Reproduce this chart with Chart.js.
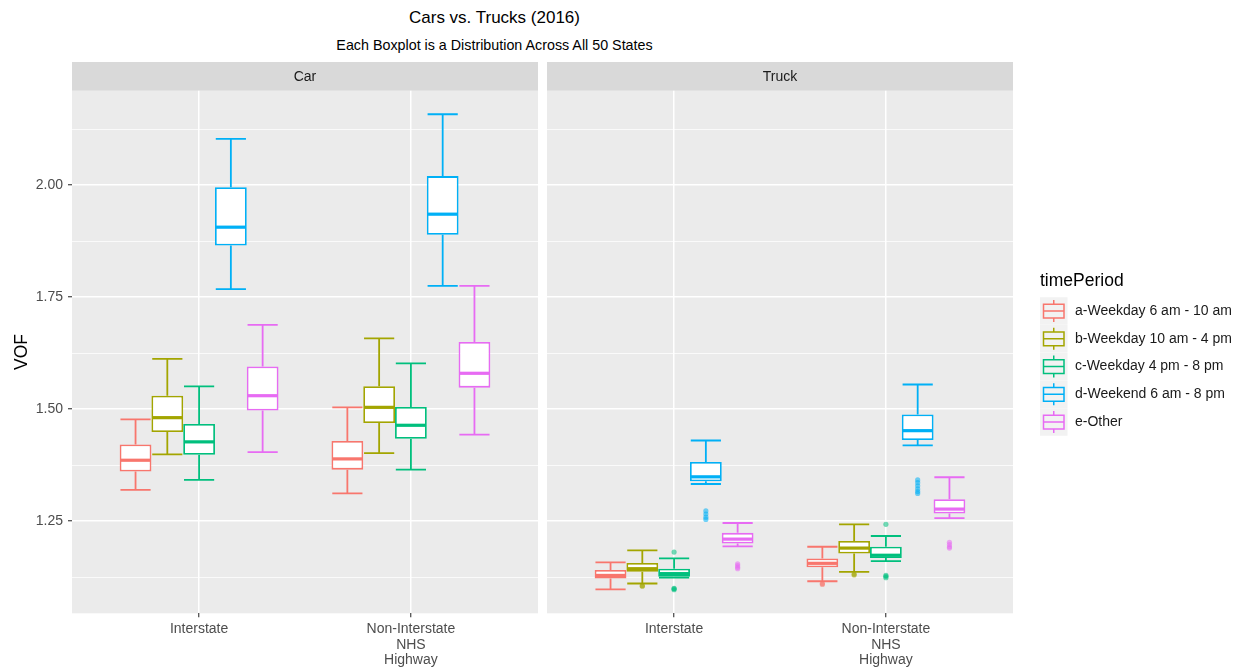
<!DOCTYPE html>
<html>
<head>
<meta charset="utf-8">
<title>Cars vs. Trucks (2016)</title>
<script src="https://cdn.jsdelivr.net/npm/chart.js@4.4.0/dist/chart.umd.min.js"></script>
<style>
  body { margin: 0; background: #ffffff; }
  #wrap { position: relative; width: 1244px; height: 667px; overflow: hidden;
          font-family: "Liberation Sans", Arial, sans-serif; }
  .heading { position: absolute; left: 0; width: 989px; text-align: center; color: #000; white-space: nowrap; }
  #carBox { position: absolute; left: 0; top: 0; width: 540px; height: 667px; }
  #truckBox { position: absolute; left: 540px; top: 0; width: 704px; height: 667px; }
</style>
</head>
<body>
<div id="wrap">
  <div class="heading" style="top:7px;font-size:17px;line-height:22px;">Cars vs. Trucks (2016)</div>
  <div class="heading" style="top:36px;font-size:14.3px;line-height:18px;">Each Boxplot is a Distribution Across All 50 States</div>
  <div id="carBox"><canvas id="carChart" width="540" height="667"></canvas></div>
  <div id="truckBox"><canvas id="truckChart" width="704" height="667"></canvas></div>
</div>
<script>
// ---- data -------------------------------------------------------------
const roadTypes = ['Interstate', ['Non-Interstate', 'NHS', 'Highway']];
const timePeriods = ['a-Weekday 6 am - 10 am', 'b-Weekday 10 am - 4 pm', 'c-Weekday 4 pm - 8 pm',
                     'd-Weekend 6 am - 8 pm', 'e-Other'];
const yTickValues = [1.125, 1.25, 1.375, 1.5, 1.625, 1.75, 1.875, 2.0, 2.125];

// five-number summaries per time period: [lower whisker, Q1, median, Q3, upper whisker]
const carInterstate = [
  [1.320, 1.361, 1.386, 1.421, 1.477],
  [1.399, 1.449, 1.481, 1.530, 1.612],
  [1.342, 1.398, 1.427, 1.467, 1.551],
  [1.768, 1.865, 1.906, 1.995, 2.103],
  [1.404, 1.497, 1.530, 1.595, 1.688]
];
const carNonInterstate = [
  [1.312, 1.365, 1.389, 1.429, 1.504],
  [1.402, 1.469, 1.504, 1.551, 1.658],
  [1.365, 1.434, 1.464, 1.505, 1.602],
  [1.775, 1.889, 1.935, 2.020, 2.158],
  [1.443, 1.548, 1.580, 1.650, 1.775]
];
const truckInterstate = [
  [1.098, 1.122, 1.129, 1.141, 1.158],
  [1.111, 1.137, 1.144, 1.157, 1.185],
  [1.124, 1.126, 1.133, 1.144, 1.167],
  [1.333, 1.339, 1.349, 1.382, 1.430],
  [1.194, 1.200, 1.210, 1.224, 1.246]
];
const truckNonInterstate = [
  [1.116, 1.147, 1.156, 1.167, 1.193],
  [1.137, 1.178, 1.190, 1.206, 1.243],
  [1.161, 1.168, 1.174, 1.193, 1.217],
  [1.419, 1.431, 1.452, 1.488, 1.555],
  [1.257, 1.267, 1.277, 1.299, 1.348]
];
// outlying states per time period
const carInterstateOutliers = [[], [], [], [], []];
const carNonInterstateOutliers = [[], [], [], [], []];
const truckInterstateOutliers = [
  [],
  [1.106, 1.105],
  [1.181, 1.099, 1.097, 1.100],
  [1.273, 1.266, 1.259, 1.254],
  [1.155, 1.151, 1.147, 1.144]
];
const truckNonInterstateOutliers = [
  [1.111, 1.109],
  [1.132, 1.130],
  [1.243, 1.127, 1.124, 1.129],
  [1.342, 1.336, 1.329, 1.322, 1.316, 1.312],
  [1.203, 1.198, 1.193, 1.190]
];

// ---- styling ----------------------------------------------------------
const periodColors = ['#F8766D', '#A3A500', '#00BF7D', '#00B0F6', '#E76BF3'];
const FONT = '"Liberation Sans", Arial, sans-serif';
Chart.defaults.font.family = FONT;
Chart.defaults.color = '#4D4D4D';

const Y_MIN = 1.0445, Y_MAX = 2.2105;
const LINE_W = 1.8;
const isMajor = v => Math.abs(v * 4 - Math.round(v * 4)) < 1e-6;

function hexToRgba(hex, a) {
  const n = parseInt(hex.slice(1), 16);
  return `rgba(${(n >> 16) & 255},${(n >> 8) & 255},${n & 255},${a})`;
}

// one floating bar (Q1..Q3) per road type; whiskers, medians and outliers come from the same stats
function buildDatasets(interstate, nonInterstate, outA, outB) {
  return timePeriods.map((label, i) => ({
    label,
    data: [
      { x: 1, y: [interstate[i][1], interstate[i][3]] },
      { x: 2, y: [nonInterstate[i][1], nonInterstate[i][3]] }
    ],
    stats: [interstate[i], nonInterstate[i]],
    outliers: [outA[i], outB[i]],
    backgroundColor: '#FFFFFF',
    borderColor: periodColors[i],
    borderWidth: LINE_W,
    borderSkipped: false,
    categoryPercentage: 0.75,
    barPercentage: 1.0
  }));
}

// grey panel background and facet strip
const panelPlugin = {
  id: 'panel',
  beforeDraw(chart, args, opts) {
    const { ctx, chartArea: a } = chart;
    ctx.save();
    ctx.fillStyle = '#EBEBEB';
    ctx.fillRect(a.left, a.top, a.right - a.left, a.bottom - a.top);
    ctx.fillStyle = '#D9D9D9';
    ctx.fillRect(a.left, 62, a.right - a.left, a.top - 62);
    ctx.fillStyle = '#1A1A1A';
    ctx.font = '14px ' + FONT;
    ctx.textAlign = 'center';
    ctx.textBaseline = 'middle';
    ctx.fillText(opts.strip, (a.left + a.right) / 2, (62 + a.top) / 2 + 0.5);
    ctx.restore();
  }
};

// whiskers, caps, medians and outlier points
const boxplotPlugin = {
  id: 'boxplot',
  afterDatasetsDraw(chart) {
    const { ctx } = chart;
    const yScale = chart.scales.y;
    ctx.save();
    chart.data.datasets.forEach((ds, di) => {
      const meta = chart.getDatasetMeta(di);
      meta.data.forEach((bar, j) => {
        const [lo, q1, med, q3, hi] = ds.stats[j];
        const x = bar.x, half = bar.width / 2;
        const yLo = yScale.getPixelForValue(lo), yQ1 = yScale.getPixelForValue(q1);
        const yMed = yScale.getPixelForValue(med), yQ3 = yScale.getPixelForValue(q3);
        const yHi = yScale.getPixelForValue(hi);
        ctx.strokeStyle = ds.borderColor;
        ctx.lineWidth = LINE_W;
        ctx.beginPath();
        ctx.moveTo(x, yQ3); ctx.lineTo(x, yHi);
        ctx.moveTo(x, yQ1); ctx.lineTo(x, yLo);
        ctx.moveTo(x - half * 0.95, yHi); ctx.lineTo(x + half * 0.95, yHi);
        ctx.moveTo(x - half * 0.95, yLo); ctx.lineTo(x + half * 0.95, yLo);
        ctx.stroke();
        ctx.lineWidth = 3.2;
        ctx.beginPath();
        ctx.moveTo(x - half + 0.9, yMed); ctx.lineTo(x + half - 0.9, yMed);
        ctx.stroke();
        ctx.fillStyle = hexToRgba(ds.borderColor, 0.55);
        ds.outliers[j].forEach(v => {
          ctx.beginPath();
          ctx.arc(x, yScale.getPixelForValue(v), 2.6, 0, Math.PI * 2);
          ctx.fill();
        });
      });
    });
    ctx.restore();
  }
};

// timePeriod key with miniature boxplot glyphs
const keyPlugin = {
  id: 'periodKey',
  afterDraw(chart, args, opts) {
    if (!opts.show) return;
    const { ctx } = chart;
    const x0 = 500, titleY = 281, rowY = 311, rowStep = 27.75, key = 27.5;
    ctx.save();
    ctx.fillStyle = '#000';
    ctx.font = '17.5px ' + FONT;
    ctx.textBaseline = 'middle';
    ctx.textAlign = 'left';
    ctx.fillText('timePeriod', x0, titleY);
    chart.data.datasets.forEach((ds, i) => {
      const cy = rowY + i * rowStep;
      ctx.fillStyle = '#F2F2F2';
      ctx.fillRect(x0, cy - key / 2, key, key);
      ctx.strokeStyle = ds.borderColor;
      ctx.lineWidth = 1.5;
      const bx = x0 + 3.5, bw = key - 7;
      ctx.beginPath();
      ctx.moveTo(x0 + key / 2, cy - key * 0.4); ctx.lineTo(x0 + key / 2, cy - key * 0.25);
      ctx.moveTo(x0 + key / 2, cy + key * 0.25); ctx.lineTo(x0 + key / 2, cy + key * 0.4);
      ctx.rect(bx, cy - key * 0.25, bw, key * 0.5);
      ctx.moveTo(bx, cy); ctx.lineTo(bx + bw, cy);
      ctx.stroke();
      ctx.fillStyle = '#1A1A1A';
      ctx.font = '14px ' + FONT;
      ctx.fillText(ds.label, 535, cy);
    });
    ctx.restore();
  }
};

function makeChart(canvasId, strip, datasets, withYLabels, padding) {
  return new Chart(document.getElementById(canvasId), {
    type: 'bar',
    data: { datasets },
    options: {
      responsive: false,
      devicePixelRatio: 1,
      animation: false,
      events: [],
      layout: { padding },
      plugins: {
        legend: { display: false },
        tooltip: { enabled: false },
        panel: { strip },
        periodKey: { show: !withYLabels }
      },
      scales: {
        x: {
          type: 'linear',
          min: 0.4,
          max: 2.6,
          bounds: 'data',
          offset: false,
          afterBuildTicks: s => { s.ticks = [{ value: 1 }, { value: 2 }]; },
          afterFit: s => { s.height = 667 - 613.3; },
          ticks: {
            autoSkip: false, maxRotation: 0, padding: 4,
            font: { size: 14, lineHeight: 1.12 }, color: '#4D4D4D',
            callback: v => roadTypes[Math.round(v) - 1]
          },
          grid: {
            offset: false, color: '#FFFFFF', lineWidth: 1.5,
            tickColor: '#333333', tickWidth: 1.1, tickLength: 4
          },
          border: { display: false }
        },
        y: {
          type: 'linear',
          min: Y_MIN,
          max: Y_MAX,
          bounds: 'data',
          beginAtZero: false,
          afterBuildTicks: s => { s.ticks = yTickValues.map(v => ({ value: v })); },
          afterFit: s => { s.width = withYLabels ? 72 : 0; },
          ticks: {
            display: withYLabels, autoSkip: false, padding: 5,
            font: { size: 14 }, color: '#4D4D4D',
            callback: v => (isMajor(v) ? v.toFixed(2) : '')
          },
          grid: {
            color: '#FFFFFF',
            lineWidth: c => (isMajor(c.tick.value) ? 1.5 : 0.75),
            drawTicks: withYLabels,
            tickColor: c => (isMajor(c.tick.value) ? '#333333' : 'rgba(0,0,0,0)'),
            tickWidth: 1.1, tickLength: 4
          },
          border: { display: false },
          title: {
            display: withYLabels, text: 'VOF', color: '#000000',
            font: { size: 17.5 }, padding: { top: 12, bottom: 0 }
          }
        }
      }
    },
    plugins: [panelPlugin, boxplotPlugin, keyPlugin]
  });
}

makeChart('carChart', 'Car',
  buildDatasets(carInterstate, carNonInterstate, carInterstateOutliers, carNonInterstateOutliers),
  true, { top: 90.7, left: 0, right: 2, bottom: 0 });

makeChart('truckChart', 'Truck',
  buildDatasets(truckInterstate, truckNonInterstate, truckInterstateOutliers, truckNonInterstateOutliers),
  false, { top: 90.7, left: 7, right: 231, bottom: 0 });
</script>
</body>
</html>
